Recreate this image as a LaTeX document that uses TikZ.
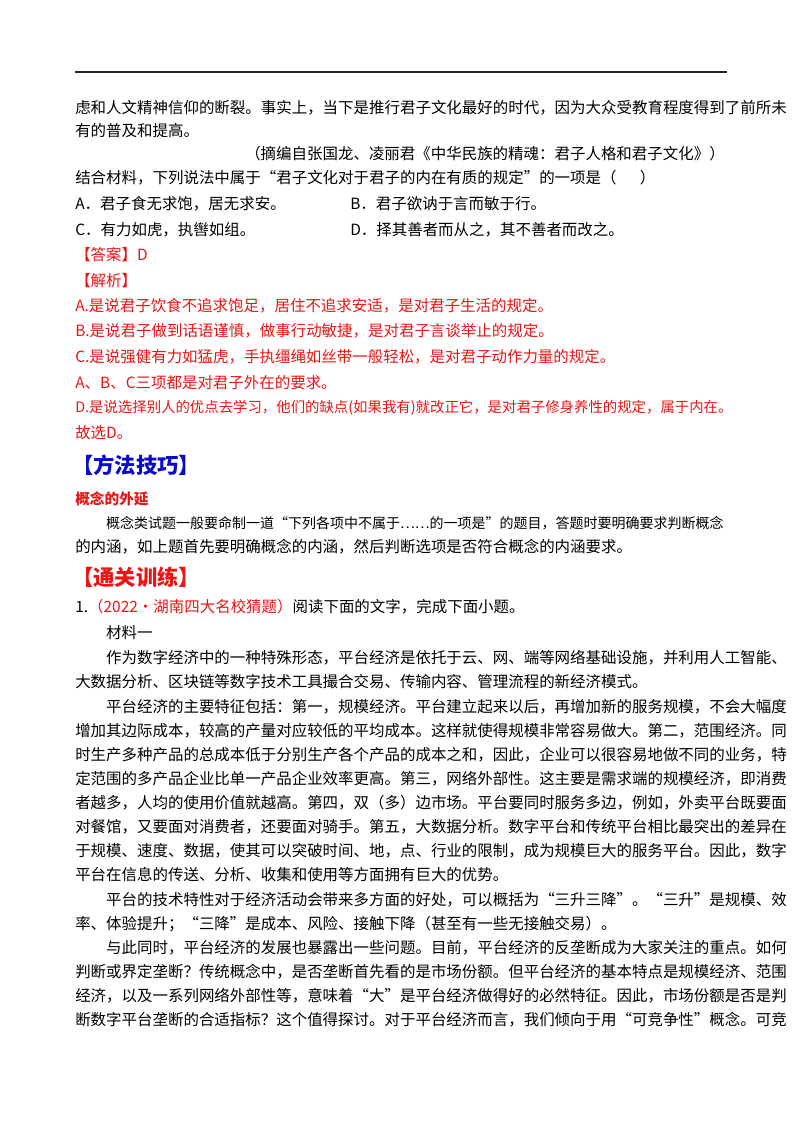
\documentclass[tikz,border=0pt]{standalone}
\usepackage{fontspec}
\setmainfont{Noto Sans CJK SC}
\XeTeXlinebreaklocale "zh"
\XeTeXlinebreakskip=0pt plus 3pt
\definecolor{rd}{RGB}{235,20,20}
\definecolor{bl}{RGB}{10,10,200}
\newcommand\jfull[1]{\hbox to 487.5pt{#1}}
\tikzset{
  ln/.style={anchor=west,inner sep=0pt,font=\fontsize{11.6pt}{14pt}\selectfont},
  jl/.style={ln},
  rl/.style={ln,text=rd},
  hd/.style={anchor=west,inner sep=0pt,font=\fontsize{16pt}{18pt}\selectfont\bfseries}
}
\begin{document}
\begin{tikzpicture}[x=0.75pt,y=-0.75pt]
\useasboundingbox (0,0) rectangle (800,1132);
\coordinate (r1) at (75,72); \coordinate (r2) at (727,72);
\draw[line width=1.2pt,black!85] (r1) -- (r2);
\node[jl] (t1) at (75,108) {\jfull{虑和人文精神信仰的断裂。事实上，当下是推行君子文化最好的时代，因为大众受教育程度得到了前所未}};
\node[ln] (t2) at (75,131) {有的普及和提高。};
\node[ln,anchor=east] (t3) at (725,154) {（摘编自张国龙、凌丽君《中华民族的精魂：君子人格和君子文化》）};
\node[ln] (t4) at (75,178) {结合材料，下列说法中属于“君子文化对于君子的内在有质的规定”的一项是（\hspace{1.5em}）};
\node[ln] (oa) at (75,204) {A．君子食无求饱，居无求安。};
\node[ln] (ob) at (350,204) {B．君子欲讷于言而敏于行。};
\node[ln] (oc) at (75,230) {C．有力如虎，执辔如组。};
\node[ln] (od) at (350,230) {D．择其善者而从之，其不善者而改之。};
\node[rl] (ans) at (75,255) {【答案】D};
\node[rl] (jx) at (75,281) {【解析】};
\node[rl] (ja) at (75,306) {A.是说君子饮食不追求饱足，居住不追求安适，是对君子生活的规定。};
\node[rl] (jb) at (75,331) {B.是说君子做到话语谨慎，做事行动敏捷，是对君子言谈举止的规定。};
\node[rl] (jc) at (75,357) {C.是说强健有力如猛虎，手执缰绳如丝带一般轻松，是对君子动作力量的规定。};
\node[rl] (jabc) at (75,383) {A、B、C三项都是对君子外在的要求。};
\node[rl,font=\fontsize{10.8pt}{14pt}\selectfont] (jd) at (75,408) {D.是说选择别人的优点去学习，他们的缺点(如果我有)就改正它，是对君子修身养性的规定，属于内在。};
\node[rl] (gx) at (75,433) {故选D。};
\node[hd,text=bl] (ff) at (72,465) {【方法技巧】};
\node[rl,font=\fontsize{11pt}{13pt}\selectfont\bfseries] (gn) at (75,499) {概念的外延};
\node[jl,font=\fontsize{10.5pt}{14pt}\selectfont] (g1) at (75,523) {\jfull{\hspace*{2.2em}概念类试题一般要命制一道“下列各项中不属于……的一项是”的题目，答题时要明确要求判断概念}};
\node[ln] (g2) at (75,547) {的内涵，如上题首先要明确概念的内涵，然后判断选项是否符合概念的内涵要求。};
\node[hd,text=rd] (tg) at (72,577) {【通关训练】};
\node[ln] (q1) at (75,607) {1.\textcolor{rd}{（2022·湖南四大名校猜题）}阅读下面的文字，完成下面小题。};
\node[ln] (cl) at (75,633) {\hspace*{2em}材料一};
\node[jl] (p1) at (75,658) {\jfull{\hspace*{2em}作为数字经济中的一种特殊形态，平台经济是依托于云、网、端等网络基础设施，并利用人工智能、}};
\node[ln] (p2) at (75,682) {大数据分析、区块链等数字技术工具撮合交易、传输内容、管理流程的新经济模式。};
\node[jl] (p3) at (75,707) {\jfull{\hspace*{2em}平台经济的主要特征包括：第一，规模经济。平台建立起来以后，再增加新的服务规模，不会大幅度}};
\node[jl] (p4) at (75,731) {\jfull{增加其边际成本，较高的产量对应较低的平均成本。这样就使得规模非常容易做大。第二，范围经济。同}};
\node[jl] (p5) at (75,755) {\jfull{时生产多种产品的总成本低于分别生产各个产品的成本之和，因此，企业可以很容易地做不同的业务，特}};
\node[jl] (p6) at (75,779) {\jfull{定范围的多产品企业比单一产品企业效率更高。第三，网络外部性。这主要是需求端的规模经济，即消费}};
\node[jl] (p7) at (75,803) {\jfull{者越多，人均的使用价值就越高。第四，双（多）边市场。平台要同时服务多边，例如，外卖平台既要面}};
\node[jl] (p8) at (75,827) {\jfull{对餐馆，又要面对消费者，还要面对骑手。第五，大数据分析。数字平台和传统平台相比最突出的差异在}};
\node[jl] (p9) at (75,851) {\jfull{于规模、速度、数据，使其可以突破时间、地，点、行业的限制，成为规模巨大的服务平台。因此，数字}};
\node[ln] (p10) at (75,875) {平台在信息的传送、分析、收集和使用等方面拥有巨大的优势。};
\node[jl] (p11) at (75,900) {\jfull{\hspace*{2em}平台的技术特性对于经济活动会带来多方面的好处，可以概括为“三升三降”。“三升”是规模、效}};
\node[ln] (p12) at (75,924) {率、体验提升；“三降”是成本、风险、接触下降（甚至有一些无接触交易）。};
\node[jl] (p13) at (75,948) {\jfull{\hspace*{2em}与此同时，平台经济的发展也暴露出一些问题。目前，平台经济的反垄断成为大家关注的重点。如何}};
\node[jl] (p14) at (75,972) {\jfull{判断或界定垄断？传统概念中，是否垄断首先看的是市场份额。但平台经济的基本特点是规模经济、范围}};
\node[jl] (p15) at (75,996) {\jfull{经济，以及一系列网络外部性等，意味着“大”是平台经济做得好的必然特征。因此，市场份额是否是判}};
\node[jl] (p16) at (75,1020) {\jfull{断数字平台垄断的合适指标？这个值得探讨。对于平台经济而言，我们倾向于用“可竞争性”概念。可竞}};
\end{tikzpicture}
\end{document}
